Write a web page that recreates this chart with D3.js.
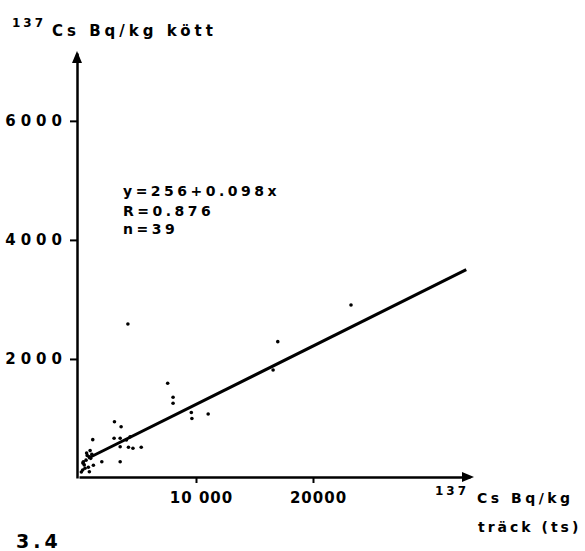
<!DOCTYPE html>
<html>
<head>
<meta charset="UTF-8" />
<title>137Cs kött vs träck</title>
<script src="https://d3js.org/d3.v7.min.js"></script>
<style>
  body { margin: 0; background: #fff; }
  text { font-family: "DejaVu Sans", sans-serif; font-weight: bold; fill: #000; }
</style>
</head>
<body>
<div id="main"></div>
<script>
// data
var fecesBq = [4180, 16990, 16590, 7580, 8040, 8040, 9600, 9650, 11040, 23250,
               3030, 3600, 1175, 3000, 3520, 4375, 3520, 4230, 4610, 5320,
               3520, 1950, 885, 700, 1000, 370, 800, 1230, 515, 317,
               885, 600, 450, 1100, 200, 4050, 650, 950, 330];
var meatBq  = [2588, 2291, 1815, 1591, 1356, 1255, 1100, 1000, 1075, 2906,
               946, 862, 644, 667, 667, 694, 526, 516, 499, 516,
               274, 274, 358, 380, 330, 274, 180, 213, 163, 134,
               106, 300, 220, 400, 100, 640, 420, 460, 250];
var yTicks = [2000, 4000, 6000];
var xTicks = [10000, 20000];
var xTickLabels = ['10 000', '20000'];
var intercept = 256, slope = 0.098;
var fitRange = [770, 33100];
var statLines = ['y=256+0.098x', 'R=0.876', 'n=39'];

var width = 585, height = 551;
var svg = d3.select('#main').append('svg').attr('width', width).attr('height', height);

var x = d3.scaleLinear().domain([0, 33420]).range([79, 470]);
var y = d3.scaleLinear().domain([0, 7140]).range([478, 53]);

// y axis
var yAxis = d3.axisLeft(y).tickValues(yTicks).tickSize(7).tickSizeOuter(0).tickPadding(3).tickFormat(d3.format('d'));
var yg = svg.append('g').attr('transform', 'translate(' + 77 + ',0)').call(yAxis);
yg.select('.domain').attr('stroke-width', 2.5);
yg.selectAll('.tick line').attr('stroke-width', 2);
yg.selectAll('.tick text').attr('font-size', 15).attr('letter-spacing', 5)
  .style('font-family', '"DejaVu Sans", sans-serif').style('font-weight', 'bold');

// x axis
var xAxis = d3.axisBottom(x).tickValues(xTicks).tickSize(6).tickSizeOuter(0)
  .tickFormat(function (d, i) { return xTickLabels[i]; });
var xg = svg.append('g').attr('transform', 'translate(0,' + 477 + ')').call(xAxis);
xg.select('.domain').attr('stroke-width', 2.5);
xg.selectAll('.tick line').attr('stroke-width', 2);
xg.selectAll('.tick text').attr('font-size', 15).attr('letter-spacing', 1)
  .attr('y', 26).attr('dy', 0).attr('dx', 5)
  .style('font-family', '"DejaVu Sans", sans-serif').style('font-weight', 'bold');

// arrowheads
svg.append('path').attr('d', 'M77,51 L72,63 L82,63 Z').attr('fill', '#000');
svg.append('path').attr('d', 'M474,477 L462,472 L462,482 Z').attr('fill', '#000');

// regression line
svg.append('line')
  .attr('x1', x(fitRange[0])).attr('y1', y(intercept + slope * fitRange[0]))
  .attr('x2', x(fitRange[1])).attr('y2', y(intercept + slope * fitRange[1]))
  .attr('stroke', '#000').attr('stroke-width', 3);

// points
svg.append('g').selectAll('circle').data(fecesBq).enter().append('circle')
  .attr('cx', function (d) { return x(d); })
  .attr('cy', function (d, i) { return y(meatBq[i]); })
  .attr('r', 1.8).attr('fill', '#000');

// stats text
svg.append('g').selectAll('text').data(statLines).enter().append('text')
  .attr('x', 123).attr('y', function (d, i) { return [196, 216, 234][i]; })
  .attr('font-size', 14).attr('letter-spacing', 3.5)
  .text(function (d) { return d; });

// y axis title
svg.append('text').attr('x', 12).attr('y', 27).attr('font-size', 12).attr('letter-spacing', 3).text('137');
svg.append('text').attr('x', 52).attr('y', 36).attr('font-size', 15).attr('letter-spacing', 4).text('Cs Bq/kg kött');

// x axis title
svg.append('text').attr('x', 435).attr('y', 495).attr('font-size', 12).attr('letter-spacing', 3).text('137');
svg.append('text').attr('x', 477).attr('y', 503).attr('font-size', 14).attr('letter-spacing', 3.5).text('Cs Bq/kg');
svg.append('text').attr('x', 478).attr('y', 532).attr('font-size', 14).attr('letter-spacing', 3).text('träck (ts)');

// figure number
svg.append('text').attr('x', 16).attr('y', 548).attr('font-size', 19).attr('letter-spacing', 4).text('3.4');
</script>
</body>
</html>
